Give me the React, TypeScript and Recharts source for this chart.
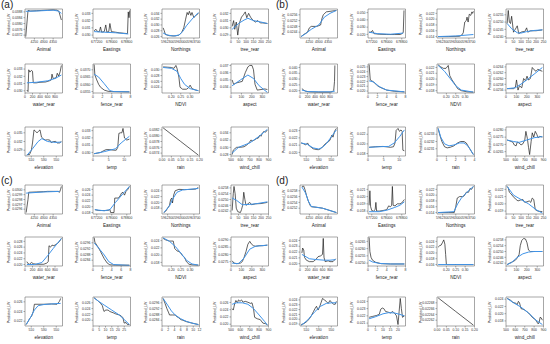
import React from 'react';
import { LineChart, Line, XAxis, YAxis } from 'recharts';

// predictor names, same order in every panel
const variables = ['Animal', 'Eastings', 'Northings', 'tree_rear', 'water_rear', 'fence_rear', 'NDVI', 'aspect', 'elevation', 'temp', 'rain', 'wind_chill'];

// x ranges + ticks (temp and rain differ per panel)
const xRanges = [[4200, 4400], [677000, 679000], [5962000, 5964000], [0, 250], [0, 1000], [0, 8], [0.15, 0.35], [0, 360], [500, 560], null, null, [500, 900]];
const xTickSets = [
  [4250, 4300, 4350],
  [677200, 678000, 678800],
  [5962300, 5963000, 5963700],
  [0, 50, 100, 150, 200, 250],
  [0, 200, 400, 600, 800],
  [0, 2, 4, 6, 8],
  [0.2, 0.25, 0.3],
  [0, 100, 200, 300],
  [510, 530, 550],
  null,
  null,
  [500, 600, 700, 800, 900],
];
const tempRanges = [[0, 12], [0, 12], [0, 30], [0, 25]];
const tempTicks = [[0, 5, 10], [0, 5, 10], [0, 5, 10, 15, 20, 25], [0, 5, 10, 15, 20]];
const rainRanges = [[0, 0.2], [0, 4], [0, 12], [0, 0.2]];
const rainTicks = [[0, 0.05, 0.1, 0.15, 0.2], [0, 1, 2, 3, 4], [0, 2, 4, 6, 8, 10, 12], [0, 0.05, 0.1, 0.15, 0.2]];

// y values are Predicted_LW x 1000
// ---------- (a)
const aBlack = [
  [[4204, 37.1], [4216, 38.9], [4230, 38.86], [4260, 38.88], [4290, 38.9], [4320, 38.92], [4350, 38.94], [4370, 38.92], [4380, 38.86], [4394, 38.24]],
  [[677060, 30.6], [677160, 30.8], [677240, 30.48], [677340, 30.48], [677400, 31.12], [677460, 30.4], [677600, 30.48], [677680, 31.4], [677740, 30.4], [677840, 30.48], [677900, 31.6], [677980, 30.48], [678200, 30.4], [678400, 30.32], [678700, 30.24], [678840, 30.2], [678880, 33.2], [678920, 32.4], [678960, 33.4]],
  [[5962060, 29.0], [5962120, 28.0], [5962180, 26.7], [5962400, 26.3], [5962700, 26.2], [5962900, 26.5], [5963040, 27.3], [5963160, 29.0], [5963260, 32.0], [5963340, 34.3], [5963400, 33.5], [5963460, 34.7], [5963540, 33.3], [5963600, 34.3], [5963700, 32.5], [5963800, 33.3], [5963900, 33.7], [5963940, 34.0]],
  [[7.5, 30.2], [17.5, 31.0], [25, 29.8], [35, 30.8], [45, 29.0], [55, 30.6], [70, 31.48], [82.5, 31.8], [95, 32.2], [105, 31.4], [117.5, 32.0], [130, 31.48], [145, 31.08], [162.5, 30.8], [180, 31.0], [195, 30.68], [212.5, 30.68], [242.5, 30.6]],
  [[50, 30.1], [80, 29.9], [100, 32.9], [130, 32.58], [170, 32.82], [200, 32.7], [220, 31.1], [300, 31.1], [400, 31.18], [550, 31.22], [650, 31.38], [700, 31.5], [720, 32.3], [750, 31.7], [830, 31.78], [860, 32.42], [900, 32.02], [940, 32.7], [970, 33.5]],
  [[0.24, 37.36], [0.4, 36.64], [0.8, 36.3], [1.2, 36.0], [1.6, 35.8], [2.4, 35.6], [3.2, 35.52], [4.0, 35.5], [7.76, 35.48]],
  [[0.156, 31.0], [0.18, 30.9], [0.2, 30.8], [0.214, 30.5], [0.224, 31.5], [0.23, 30.5], [0.24, 27.5], [0.246, 24.0], [0.26, 23.3], [0.28, 23.3], [0.29, 23.7], [0.3, 24.7], [0.31, 23.5], [0.33, 23.0], [0.344, 22.8]],
  [[10.8, 35.0], [25.2, 34.4], [54, 34.6], [108, 34.8], [136.8, 36.0], [162, 36.8], [180, 37.0], [201.6, 37.0], [216, 36.4], [230.4, 34.4], [252, 33.6], [288, 33.68], [324, 33.76], [349.2, 33.68]],
  [[503, 27.5], [507.2, 27.5], [510.2, 29], [512, 31.5], [514.4, 36], [516.8, 35.5], [519.2, 35], [521.6, 35.5], [524, 36], [526.4, 33.5], [530, 32.8], [533, 32.5], [536, 32.6], [539.6, 32.5], [542, 31.6], [545.6, 32], [549.2, 32], [551.6, 31.5], [555.2, 31.5], [558.2, 32]],
  [[0.36, 29.82], [1.44, 29.9], [2.4, 29.98], [3.36, 30.22], [4.2, 30.38], [5.4, 30.38], [6.6, 30.3], [7.44, 30.3], [7.92, 30.7], [8.28, 32.62], [8.76, 32.7], [9.24, 32.7], [9.6, 33.3], [10.08, 31.98], [10.8, 31.7], [11.64, 31.82]],
  [[0.006, 38.27], [0.1, 37.8], [0.194, 37.33]],
  [[512, 28.0], [524, 29.2], [540, 29.6], [560, 30.0], [600, 30.0], [640, 30.16], [668, 30.64], [692, 31.2], [712, 32.0], [732, 31.76], [748, 32.0], [772, 32.4], [792, 32.56], [808, 33.36], [820, 33.04], [836, 34.0], [852, 34.4], [868, 34.16], [888, 34.8]],
];
const aBlue = [
  [[4204, 38.84], [4260, 38.86], [4320, 38.9], [4350, 38.92], [4376, 38.86], [4394, 38.7]],
  [[677060, 30.48], [677600, 30.4], [678200, 30.32], [678880, 30.16]],
  [[5962060, 27.2], [5962300, 26.5], [5962600, 26.2], [5962900, 26.5], [5963100, 27.7], [5963300, 29.7], [5963600, 32.0], [5963940, 34.3]],
  [[7.5, 29.8], [50, 30.6], [87.5, 31.08], [112.5, 31.32], [150, 31.0], [200, 30.8], [242.5, 30.6]],
  [[50, 31.1], [300, 31.18], [600, 31.38], [800, 31.7], [970, 32.18]],
  [[0.24, 36.7], [1.2, 36.5], [2.4, 36.04], [3.6, 35.56], [4.4, 35.5], [7.76, 35.48]],
  [[0.156, 30.8], [0.2, 30.5], [0.23, 29.5], [0.25, 27], [0.27, 25], [0.3, 23.5], [0.344, 22.8]],
  [[10.8, 34.2], [90, 35.0], [162, 35.68], [216, 35.2], [270, 34.2], [349.2, 33.28]],
  [[503, 27.2], [512, 29.5], [521, 32], [527, 33], [536, 32], [548, 31.7], [558.2, 31.8]],
  [[0.36, 29.82], [3.6, 30.1], [7.2, 30.5], [9, 31.3], [11.64, 32.22]],
  [],
  [[512, 28.4], [580, 30.0], [700, 31.2], [800, 33.04], [888, 34.96]],
];
const aYRange = [[37, 39], [29.6, 33.6], [25.5, 35.5], [28.6, 32.6], [29.7, 33.7], [35.4, 37.4], [22, 32], [33.2, 37.2], [27, 37], [29.5, 33.5], [37.3, 38.3], [27.6, 35.6]];
const aYTicks = [[37.2, 37.6, 38.0, 38.4, 38.8], [30, 31, 32, 33], [26, 28, 30, 32, 34], [29, 30, 31, 32], [30, 31, 32, 33], [35.5, 36, 36.5, 37], [24, 26, 28, 30], [34, 35, 36, 37], [29, 32, 35], [30, 31, 32, 33], [37.4, 37.6, 37.8, 38, 38.2], [28, 30, 32, 34]];

// ---------- (b)
const bBlack = [
  [[4206, 24.1], [4220, 24.24], [4240, 24.4], [4250, 24.7], [4260, 24.8], [4290, 24.8], [4310, 24.9], [4316, 25.3], [4324, 25.6], [4340, 25.8], [4360, 25.84], [4394, 25.9]],
  [[677060, 23], [677160, 23], [677240, 25.4], [677320, 21], [677600, 20.2], [678000, 19.8], [678400, 19.8], [678720, 19.8], [678840, 21.4], [678880, 23], [678920, 53]],
  [[5962060, 14], [5962600, 14], [5963200, 14.1], [5963320, 14.5], [5963400, 15.3], [5963480, 19], [5963560, 19.5], [5963600, 20.7], [5963660, 19], [5963720, 21.7], [5963800, 21.3], [5963860, 22.5], [5963900, 22], [5963940, 22.7]],
  [[7.5, 24.9], [15, 25.8], [22.5, 25.0], [30, 24.9], [37.5, 25.4], [50, 24.3], [67.5, 24.6], [75, 24.74], [85, 24.2], [100, 24.3], [112.5, 24.34], [125, 24.34], [137.5, 24.6], [145, 24.3], [162.5, 24.4], [200, 24.4], [242.5, 24.46]],
  [[50, 21.75], [100, 20.5], [150, 19.5], [250, 19], [500, 18.75], [800, 18.75], [860, 19.25], [900, 20.5], [920, 28], [930, 41.75]],
  [[0.24, 25.48], [0.48, 22.3], [0.8, 22.12], [1.2, 21.88], [2, 21.1], [2.8, 20.68], [4, 20.2], [5.6, 19.96], [7.76, 19.84]],
  [[0.156, 22.45], [0.17, 22.1], [0.184, 21.85], [0.198, 21.85], [0.21, 22.35], [0.218, 20.6], [0.23, 19.85], [0.246, 19.1], [0.26, 18.35], [0.28, 18.0], [0.31, 17.8], [0.344, 17.75]],
  [[10.8, 25.65], [72, 25.65], [90, 25.7], [100.8, 25.95], [115.2, 25.6], [129.6, 25.75], [151.2, 25.68], [169.2, 26.0], [187.2, 25.92], [201.6, 26.08], [216, 25.95], [234, 26.0], [252, 26.38], [270, 26.3], [288, 26.25], [306, 26.32], [324, 26.28], [349.2, 26.25]],
  [[501.8, 21.3], [506, 21.18], [509, 21.02], [512, 21.3], [515, 20.9], [518, 20.7], [521, 20.5], [527, 20.38], [530, 20.38], [533, 20.5], [536, 20.78], [539, 21.02], [542, 21.3], [545, 21.42], [548, 21.7], [551, 22.38], [552.8, 22.1], [555.2, 22.9], [558.2, 23.3]],
  [[0.36, 19.3], [2.4, 19.42], [4.8, 19.48], [7.2, 19.3], [8.16, 19.42], [8.64, 20.2], [9, 22.78], [9.6, 23.2], [10.08, 22.6], [10.56, 22.9], [10.92, 22.6], [11.16, 18.7], [11.64, 18.58]],
  [[0.12, 23.38], [0.32, 23.28], [0.52, 23.2], [0.8, 23.128], [1.08, 23.112], [1.4, 23.12], [1.8, 23.14], [2.2, 23.18], [2.52, 23.2], [2.88, 23.2], [3.12, 23.18], [3.4, 23.12], [3.68, 23.06], [3.88, 23.02]],
  [[512, 27.3], [540, 27.24], [572, 27.16], [588, 26.96], [608, 26.9], [620, 27.16], [640, 27.1], [660, 26.96], [680, 27.04], [700, 27.3], [712, 27.9], [728, 27.4], [740, 26.8], [752, 26.3], [768, 27.2], [780, 27.8], [796, 27.5], [812, 27.9], [828, 27.7], [844, 27.44], [860, 27.56], [888, 27.5]],
];
const bBlue = [
  [[4206, 24.1], [4230, 24.3], [4260, 24.6], [4300, 24.9], [4330, 25.44], [4360, 25.7], [4394, 25.9]],
  [[677060, 23], [677500, 21], [678200, 20.2], [678880, 21.8]],
  [[5962060, 14], [5963000, 14.2], [5963940, 14.7]],
  [[7.5, 24.9], [37.5, 24.54], [75, 24.26], [100, 24.24], [137.5, 24.34], [187.5, 24.42], [242.5, 24.46]],
  [[50, 20.5], [200, 19.25], [500, 19], [850, 19], [930, 19.75]],
  [[0.24, 22.12], [1.2, 21.88], [2.4, 20.92], [4, 20.2], [7.76, 19.84]],
  [[0.156, 22.35], [0.19, 21.35], [0.22, 20.1], [0.25, 18.85], [0.28, 18.1], [0.344, 17.75]],
  [[10.8, 25.65], [90, 25.68], [162, 25.85], [216, 26.0], [270, 26.15], [349.2, 26.38]],
  [[501.8, 21.3], [512, 21.1], [521, 20.62], [530, 20.46], [536, 20.7], [542, 21.18], [548, 21.9], [558.2, 23.1]],
  [[0.36, 19.3], [3.6, 19.42], [6.6, 19.48], [8.4, 20.2], [10.2, 21.58], [11.64, 22.9]],
  [[0.12, 23.38], [0.4, 23.26], [0.8, 23.168], [1.28, 23.14], [1.8, 23.152], [2.4, 23.18], [2.88, 23.18], [3.28, 23.14], [3.6, 23.08], [3.88, 23.02]],
  [[512, 27.3], [580, 27.2], [640, 27.14], [720, 27.3], [800, 27.46], [888, 27.54]],
];
const bYRange = [[24, 26], [15, 55], [13.5, 23.5], [23.9, 25.9], [18, 43], [19.6, 25.6], [17.6, 22.6], [25.5, 26.5], [19.5, 23.5], [17.5, 23.5], [23, 23.4], [26.2, 28.2]];
const bYTicks = [[24.4, 24.8, 25.2, 25.6], [20, 30, 40, 50], [14, 16, 18, 20, 22], [24, 24.5, 25, 25.5], [20, 25, 30, 35, 40], [20, 21, 22, 23, 24, 25], [18, 19, 20, 21, 22], [25.6, 25.8, 26, 26.2, 26.4], [20, 21, 22, 23], [18, 20, 22], [23.1, 23.2, 23.3], [26.5, 27, 27.5, 28]];

// ---------- (c)
const cBlack = [
  [[4206, 29.53], [4216, 29.8], [4220, 29.95], [4260, 29.956], [4300, 29.962], [4320, 29.968], [4350, 29.968], [4376, 29.968], [4384, 29.95], [4390, 30.01], [4394, 30.07]],
  [[677100, 19], [677300, 18.7], [677600, 18.7], [677840, 18.8], [677900, 19.1], [677940, 18], [678120, 18], [678160, 23], [678360, 23], [678440, 23.7], [678520, 24.7], [678600, 25], [678680, 24], [678760, 25.3], [678860, 26], [678940, 27]],
  [[5962100, 16.5], [5962200, 17], [5962300, 18], [5962400, 19], [5962460, 21], [5962520, 21.5], [5962560, 19.8], [5962620, 22.5], [5962700, 24], [5962900, 24.5], [5963200, 24.4], [5963600, 24.5], [5963800, 24.6], [5963940, 25.2]],
  [[7.5, 24.24], [15, 25.4], [20, 25.9], [27.5, 25.4], [35, 24.4], [45, 24.16], [62.5, 24.1], [70, 24.3], [77.5, 24.6], [85, 25.5], [92.5, 25.0], [100, 24.6], [112.5, 24.7], [125, 24.8], [137.5, 24.64], [162.5, 24.7], [200, 24.72], [242.5, 24.8]],
  [[50, 21], [80, 20.3], [120, 20.1], [170, 20.7], [220, 20.3], [300, 20.1], [400, 20.1], [500, 20.1], [580, 20.5], [620, 21], [640, 26.5], [680, 26], [720, 26.7], [770, 26.5], [820, 26.9], [870, 27.3], [920, 28], [970, 29]],
  [[0.24, 29.96], [0.4, 29.64], [0.8, 29.44], [1.2, 29.24], [1.6, 29.0], [2.4, 28.5], [3.04, 28.2], [3.6, 28.08], [4.8, 28.06], [7.76, 28.06]],
  [[0.156, 24.6], [0.17, 24.2], [0.19, 23.88], [0.21, 23.88], [0.218, 21.8], [0.23, 21.16], [0.24, 21], [0.25, 20.6], [0.26, 19.8], [0.27, 19.4], [0.28, 18.2], [0.294, 17.48], [0.31, 17.32], [0.344, 17.24]],
  [[10.8, 27.56], [28.8, 27.4], [54, 27.36], [90, 27.4], [108, 27.5], [126, 27.8], [144, 28.2], [162, 28.7], [180, 28.9], [198, 28.7], [216, 28.6], [234, 28.56], [270, 28.6], [306, 28.6], [349.2, 28.64]],
  [[501.8, 21.3], [504.8, 21.9], [507.2, 22.5], [509, 22.8], [510.8, 23.1], [513.2, 24], [515, 25.5], [521, 25.5], [530, 25.5], [542, 25.56], [551, 25.5], [552.8, 25.8], [555.2, 26.1], [557, 26.7]],
  [[0.9, 27.7], [3, 27], [4.5, 26.5], [6, 25.8], [7.5, 25], [8.4, 23.5], [9, 23], [9.9, 23.5], [12, 23.5], [13.5, 23], [16.5, 22.5], [18, 22.2], [21, 21.8], [22.5, 21.5], [24, 20.8], [24.9, 19], [26.4, 19.2], [27.6, 18.5], [29.1, 18.5]],
  [[0.36, 29.9], [0.96, 29.56], [1.56, 29.2], [2.16, 28.9], [2.4, 28.76], [3.36, 28.76], [4.2, 28.76], [4.8, 28.64], [5.4, 28.56], [6, 28.44], [6.6, 28.4], [7.8, 28.3], [9.6, 28.2], [11.64, 28.1]],
  [[512, 24.3], [524, 23.9], [540, 25.74], [552, 26.54], [568, 25.9], [580, 26.7], [596, 26.3], [612, 26.7], [628, 26.06], [652, 26.3], [680, 26.06], [708, 25.74], [724, 25.9], [740, 24.3], [752, 21.9], [780, 21.5], [812, 21.26], [840, 20.3], [868, 20.14], [888, 19.9]],
];
const cBlue = [
  [[4206, 29.932], [4300, 29.956], [4384, 29.968]],
  [[677100, 19], [677600, 18.6], [677900, 19], [678200, 21.5], [678600, 24.5], [678940, 27]],
  [[5962100, 16.5], [5962400, 18.8], [5962600, 21.5], [5962800, 23.5], [5963100, 24.3], [5963940, 24.8]],
  [[7.5, 25.1], [37.5, 24.94], [75, 24.64], [125, 24.66], [175, 24.72], [242.5, 24.84]],
  [[50, 20], [250, 20], [450, 20.7], [600, 23], [750, 25.5], [970, 29]],
  [[0.24, 29.6], [1.2, 29.24], [2.4, 28.76], [3.36, 28.3], [4.4, 28.1], [7.76, 28.04]],
  [[0.156, 24.76], [0.19, 23.8], [0.22, 22.44], [0.25, 20.6], [0.28, 18.6], [0.31, 17.56], [0.344, 17.24]],
  [[10.8, 27.4], [72, 27.36], [126, 27.76], [180, 28.36], [234, 28.56], [349.2, 28.64]],
  [[501.8, 21.3], [509, 22.8], [515, 24.3], [521, 25.2], [530, 25.44], [542, 25.56], [557, 25.68]],
  [[0.9, 27.7], [4.5, 26.5], [9, 25.2], [15, 23.5], [21, 21.8], [25.5, 20], [29.1, 18.5]],
  [[0.36, 29.9], [1.8, 29.44], [3, 29.04], [4.2, 28.76], [6, 28.5], [7.8, 28.32], [9.6, 28.2], [11.64, 28.1]],
  [[512, 25.5], [560, 25.9], [620, 25.9], [680, 25.5], [740, 24.3], [800, 22.54], [860, 20.7], [888, 19.66]],
];
const cYRange = [[29.5, 30.1], [17.5, 27.5], [16, 26], [24, 26], [19.5, 29.5], [28, 30], [17, 25], [27.2, 29.2], [21, 27], [18, 28], [28, 30], [19.5, 27.5]];
const cYTicks = [[29.6, 29.7, 29.8, 29.9, 30.0], [18, 20, 22, 24, 26], [18, 20, 22, 24], [24.2, 24.6, 25, 25.4, 25.8], [20, 22, 24, 26, 28], [28.4, 28.8, 29.2, 29.6], [18, 20, 22, 24], [27.5, 28, 28.5, 29], [22, 24, 26], [20, 22, 24, 26], [28.4, 28.8, 29.2, 29.6], [20, 22, 24, 26]];

// ---------- (d)
const dBlack = [
  [[4210, 25.95], [4220, 25.96], [4226, 25.85], [4234, 25.65], [4244, 25.45], [4254, 25.3], [4260, 25.25], [4290, 25.23], [4320, 25.2], [4360, 25.12], [4394, 25.05]],
  [[677060, 18.8], [677100, 20.8], [677140, 18.6], [677200, 18.08], [677300, 18.0], [677380, 18.2], [677420, 19.2], [677460, 18.0], [677600, 18.0], [677800, 18.08], [678000, 18.2], [678100, 18.72], [678200, 18.6], [678260, 18.8], [678300, 21.4], [678340, 18.8], [678440, 18.72], [678560, 19.0], [678700, 19.0], [678800, 19.12], [678940, 19.6]],
  [[5962060, 14], [5962600, 14], [5962920, 14], [5963000, 16], [5963080, 19], [5963200, 19.5], [5963360, 19.5], [5963440, 19.7], [5963560, 21], [5963680, 21], [5963760, 22.3], [5963840, 22], [5963940, 23]],
  [[7.5, 22.4], [15, 22.2], [22.5, 21.6], [32.5, 21.4], [45, 21.08], [62.5, 20.68], [80, 20.4], [95, 20.52], [112.5, 20.6], [125, 20.2], [140, 20.28], [155, 20.4], [165, 20.2], [175, 20.8], [185, 20.6], [195, 19.2], [212.5, 19.0], [242.5, 18.92]],
  [[50, 21.85], [70, 22.7], [100, 22.35], [120, 21.1], [170, 20.6], [250, 20.35], [350, 20.35], [420, 20.7], [480, 21.2], [550, 21.35], [600, 21.6], [620, 24.35], [640, 21.1], [670, 20.35], [750, 20.5], [800, 20.35], [880, 20.35], [950, 20.85]],
  [[0.24, 26.76], [0.4, 25.8], [0.64, 25.4], [0.96, 25.2], [1.6, 25.06], [2.8, 24.96], [4.8, 24.94], [7.76, 24.94]],
  [[0.156, 22], [0.164, 22.5], [0.172, 22.7], [0.18, 23.7], [0.186, 24.5], [0.192, 23], [0.196, 19.5], [0.2, 16], [0.22, 16], [0.344, 16]],
  [[10.8, 24.1], [36, 24.2], [64.8, 24.3], [90, 24.4], [108, 24.56], [126, 24.8], [136.8, 25.4], [151.2, 25.76], [169.2, 25.9], [187.2, 25.86], [201.6, 25.6], [216, 25.1], [234, 25.0], [270, 25.0], [349.2, 25.0]],
  [[501.8, 18.9], [506, 19.08], [510.8, 19.5], [515, 20.1], [518, 20.7], [521.6, 21.6], [524, 22.2], [526.4, 22.68], [528.8, 21.9], [531.2, 22.5], [533.6, 23.4], [536, 24.3], [539, 24.0], [542, 23.7], [545, 23.28], [548, 23.88], [551, 23.4], [554, 23.1], [556.4, 23.1], [558.2, 23.7]],
  [[0.75, 21.8], [3, 21.92], [5.5, 22.04], [7.5, 22.2], [8.5, 22.92], [9.5, 23.08], [10.5, 23.0], [11.75, 22.6], [13.25, 22.52], [15, 22.4], [16.5, 22.6], [18, 22.28], [19, 22.0], [20, 20.8], [20.75, 22.6], [21.5, 24.4], [22.25, 23.0], [23, 21.8], [24.25, 22.0]],
  [[0.006, 22.697], [0.1, 22.65], [0.194, 22.603]],
  [[512, 24.2], [532, 23.96], [552, 23.64], [572, 23.16], [588, 23.0], [608, 22.84], [620, 22.52], [632, 23.4], [644, 23.0], [660, 21.4], [680, 21.24], [700, 21.0], [720, 20.6], [740, 20.2], [760, 19.64], [780, 19.0], [800, 18.6], [820, 18.2], [840, 17.24], [852, 17.4], [864, 19.0], [876, 18.84], [888, 18.2]],
];
const dBlue = [
  [[4210, 25.93], [4230, 25.72], [4244, 25.45], [4260, 25.26], [4320, 25.2], [4394, 25.05]],
  [[677060, 17.92], [677600, 17.92], [678000, 18.12], [678400, 18.48], [678700, 18.8], [678940, 19.28]],
  [[5962060, 14], [5962900, 14.3], [5963100, 17], [5963300, 19], [5963600, 21], [5963940, 23]],
  [[7.5, 22.4], [50, 21.2], [100, 20.6], [150, 20.0], [200, 19.2], [242.5, 18.72]],
  [[50, 21.6], [250, 20.85], [450, 20.7], [650, 20.6], [800, 20.6], [950, 20.7]],
  [[0.24, 25.2], [0.96, 25.08], [2.4, 24.98], [4.8, 24.94], [7.76, 24.94]],
  [[0.156, 16], [0.25, 16], [0.344, 16]],
  [[10.8, 24.1], [54, 24.24], [108, 24.6], [162, 24.84], [216, 24.96], [270, 25.0], [349.2, 25.0]],
  [[501.8, 18.72], [512, 19.8], [524, 21.6], [533, 22.68], [542, 23.28], [551, 23.4], [558.2, 23.4]],
  [[0.75, 21.6], [5, 21.88], [10, 22.28], [13.75, 22.44], [17.5, 22.4], [21.25, 22.2], [24.25, 22.0]],
  [],
  [[512, 24.2], [580, 23.0], [660, 21.8], [740, 20.2], [820, 18.2], [888, 17.0]],
];
const dYRange = [[25, 26], [17.6, 21.6], [13.5, 23.5], [18.6, 22.6], [19.6, 24.6], [24.8, 26.8], [15.5, 25.5], [24, 26], [18.6, 24.6], [20.6, 24.6], [22.6, 22.7], [16.6, 24.6]];
const dYTicks = [[25.2, 25.4, 25.6, 25.8], [18, 19, 20, 21], [14, 16, 18, 20, 22], [19, 20, 21, 22], [20, 21, 22, 23, 24], [25, 25.5, 26, 26.5], [16, 18, 20, 22, 24], [24.2, 24.6, 25, 25.4, 25.8], [19, 20, 21, 22, 23, 24], [21, 22, 23, 24], [22.62, 22.64, 22.66, 22.68], [18, 20, 22, 24]];

const panels = [
  { label: '(a)', left: 0, rows: [9, 64, 127], black: aBlack, blue: aBlue, yRange: aYRange, yTicks: aYTicks },
  { label: '(b)', left: 275, rows: [9, 64, 127], black: bBlack, blue: bBlue, yRange: bYRange, yTicks: bYTicks },
  { label: '(c)', left: 0, rows: [185, 237, 297], black: cBlack, blue: cBlue, yRange: cYRange, yTicks: cYTicks },
  { label: '(d)', left: 275, rows: [185, 237, 297], black: dBlack, blue: dBlue, yRange: dYRange, yTicks: dYTicks },
];

const AXIS = '#6b6b6b';
const BLUE = '#3f93e8';
const BOX_W = 37.5;
const BOX_H = 29;

const yFormatter = (ticks) => {
  const step = ticks.length > 1 ? ticks[1] - ticks[0] : 1;
  const dec = step >= 0.999 ? 3 : step >= 0.0999 ? 4 : 5;
  return (v) => (v / 1000).toFixed(dec);
};
const xFormatter = (range) => (v) => (range[1] - range[0] < 1 ? v.toFixed(2) : String(v));

const YLab = () => (
  <text x={8} y={4 + BOX_H / 2 + 1} transform={`rotate(-90 8 ${4 + BOX_H / 2 + 1})`} textAnchor="middle" dominantBaseline="central" fontSize={3.5} fill="#222">
    Predicted_LW
  </text>
);

function SmallPlot({ left, top, name, xr, xt, yr, yt, black, blue }) {
  const blackData = black.map(([x, y]) => ({ x, y }));
  const blueData = blue.map(([x, y]) => ({ x, y }));
  const tickStyle = { fontSize: 3.4, fill: '#333' };
  return (
    <div style={{ position: 'absolute', left: left - 24, top: top - 4 }}>
      <LineChart width={24 + BOX_W + 6} height={4 + BOX_H + 14} margin={{ top: 2, right: 2, bottom: 1, left: 2 }}>
        <XAxis dataKey="x" type="number" domain={xr} ticks={xt} allowDataOverflow interval={0}
          tickFormatter={xFormatter(xr)} height={13} tickSize={1.5} tickMargin={1.2}
          stroke={AXIS} strokeWidth={0.6} tick={tickStyle}
          label={{ value: name, position: 'insideBottom', offset: 0, fontSize: 4.6, fill: '#222' }} />
        <XAxis xAxisId="top" orientation="top" dataKey="x" type="number" domain={xr} ticks={xt} allowDataOverflow
          interval={0} height={2} tick={false} tickSize={1.5} stroke={AXIS} strokeWidth={0.6} />
        <YAxis type="number" domain={yr} ticks={yt} allowDataOverflow interval={0} width={22}
          tickFormatter={yFormatter(yt)} tickSize={1.5} tickMargin={1} stroke={AXIS} strokeWidth={0.6}
          tick={tickStyle} label={<YLab />} />
        <YAxis yAxisId="right" orientation="right" type="number" domain={yr} ticks={yt} allowDataOverflow
          interval={0} width={4} tick={false} tickSize={1.5} stroke={AXIS} strokeWidth={0.6} />
        <Line data={blackData} dataKey="y" type="linear" stroke="#1c1c1c" strokeWidth={0.7} dot={false} isAnimationActive={false} />
        {blueData.length > 0 && (
          <Line data={blueData} dataKey="y" type="linear" stroke={BLUE} strokeWidth={1} dot={false} isAnimationActive={false} />
        )}
      </LineChart>
    </div>
  );
}

export default function App() {
  return (
    <div style={{ position: 'absolute', left: 0, top: 0, width: 550, height: 344, background: '#fff', overflow: 'hidden', fontFamily: '"Liberation Sans", Arial, sans-serif' }}>
      {panels.map((p, pi) => (
        <React.Fragment key={p.label}>
          <div style={{ position: 'absolute', left: p.left + 1, top: p.rows[0] - 9, fontSize: 10, color: '#222', lineHeight: '10px' }}>{p.label}</div>
          {variables.map((name, i) => {
            const row = Math.floor(i / 4);
            const col = i % 4;
            const xr = name === 'temp' ? tempRanges[pi] : name === 'rain' ? rainRanges[pi] : xRanges[i];
            const xt = name === 'temp' ? tempTicks[pi] : name === 'rain' ? rainTicks[pi] : xTickSets[i];
            return (
              <SmallPlot key={name} left={p.left + 24.5 + col * 68.75} top={p.rows[row]} name={name}
                xr={xr} xt={xt} yr={p.yRange[i]} yt={p.yTicks[i]} black={p.black[i]} blue={p.blue[i]} />
            );
          })}
        </React.Fragment>
      ))}
    </div>
  );
}
